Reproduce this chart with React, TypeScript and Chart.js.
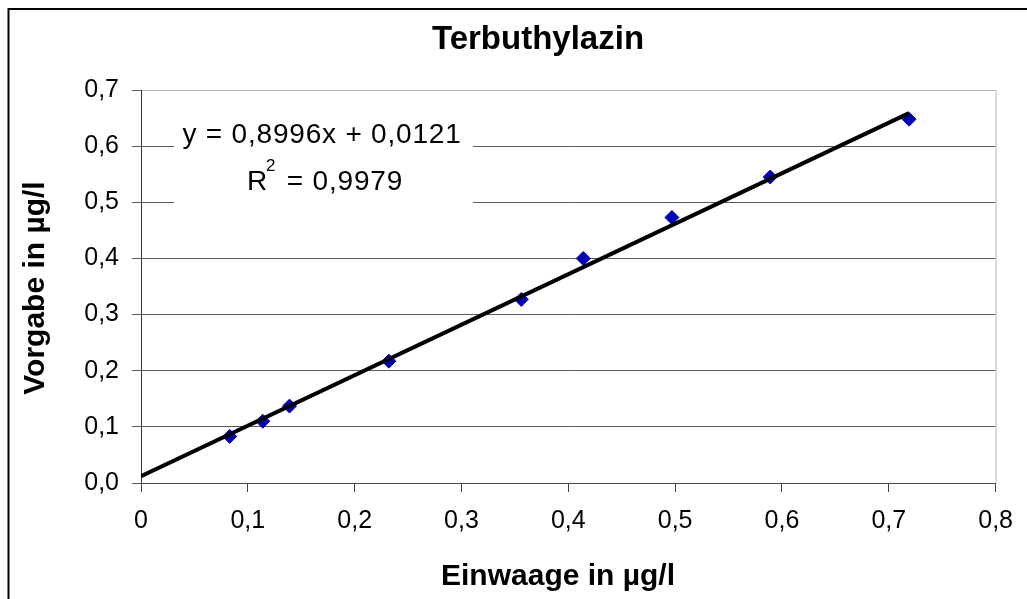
import React, { useEffect, useRef } from 'react';
import { Chart, registerables } from 'chart.js';

Chart.register(...registerables);

// ---- data ----
const xValues = [0.083, 0.114, 0.139, 0.232, 0.356, 0.414, 0.497, 0.589, 0.719];
const yValues = [0.083, 0.110, 0.137, 0.217, 0.327, 0.400, 0.473, 0.545, 0.648];
const trendSlope = 0.8996;
const trendIntercept = 0.0121;
const rSquared = 0.9979;
const xTickLabels = ['0', '0,1', '0,2', '0,3', '0,4', '0,5', '0,6', '0,7', '0,8'];
const yTickLabels = ['0,0', '0,1', '0,2', '0,3', '0,4', '0,5', '0,6', '0,7'];
const chartTitle = 'Terbuthylazin';
const xAxisTitle = 'Einwaage in µg/l';
const yAxisTitle = 'Vorgabe in µg/l';

const FONT = '"Liberation Sans", Arial, sans-serif';
const fmt = (v: number, d: number) => v.toFixed(d).replace('.', ',');

const decorPlugin = {
  id: 'decor',
  beforeDatasetsDraw(chart: any) {
    const { ctx, chartArea: a } = chart;
    ctx.save();
    // light gray top/right border of plot area
    ctx.strokeStyle = '#b8b8b8';
    ctx.lineWidth = 1;
    ctx.beginPath();
    ctx.moveTo(a.left + 1, a.top + 0.5);
    ctx.lineTo(a.right + 0.5, a.top + 0.5);
    ctx.lineTo(a.right + 0.5, a.bottom);
    ctx.stroke();
    // white background of the trendline label
    ctx.fillStyle = '#ffffff';
    ctx.fillRect(174, 108, 299, 100);
    ctx.restore();
  },
  afterDraw(chart: any) {
    const { ctx } = chart;
    ctx.save();
    ctx.fillStyle = '#000';
    // chart title
    ctx.font = `bold 33px ${FONT}`;
    ctx.textAlign = 'center';
    ctx.textBaseline = 'alphabetic';
    ctx.fillText(chartTitle, 538, 49);
    // x axis title
    ctx.font = `bold 30px ${FONT}`;
    ctx.fillText(xAxisTitle, 558, 585);
    // y axis title
    ctx.save();
    ctx.translate(44, 288);
    ctx.rotate(-Math.PI / 2);
    ctx.fillText(yAxisTitle, 0, 0);
    ctx.restore();

    // trendline equation
    (ctx as any).letterSpacing = '0.8px';
    ctx.font = `28px ${FONT}`;
    ctx.textAlign = 'center';
    ctx.fillText(`y = ${fmt(trendSlope, 4)}x + ${fmt(trendIntercept, 4)}`, 322, 143);
    ctx.textAlign = 'left';
    const p1 = 'R';
    const p3 = ` = ${fmt(rSquared, 4)}`;
    ctx.font = `28px ${FONT}`;
    const w1 = ctx.measureText(p1).width;
    const w3 = ctx.measureText(p3).width;
    ctx.font = `17px ${FONT}`;
    const w2 = ctx.measureText('2').width;
    const total = w1 + w2 + w3;
    let x = 325 - total / 2;
    ctx.font = `28px ${FONT}`;
    ctx.fillText(p1, x, 190);
    x += w1;
    ctx.font = `17px ${FONT}`;
    ctx.fillText('2', x - 2, 171);
    x += w2;
    ctx.font = `28px ${FONT}`;
    ctx.fillText(p3, x, 190);
    (ctx as any).letterSpacing = '0px';

    // outer chart frame
    ctx.strokeStyle = '#000';
    ctx.lineWidth = 2;
    ctx.beginPath();
    ctx.moveTo(8.5, 599);
    ctx.lineTo(8.5, 9);
    ctx.lineTo(1027, 9);
    ctx.stroke();
    ctx.restore();
  },
};

export default function App() {
  const canvasRef = useRef<HTMLCanvasElement | null>(null);

  useEffect(() => {
    if (!canvasRef.current) return;
    const points = xValues.map((x, i) => ({ x, y: yValues[i] }));
    const xMax = Math.max(...xValues);
    const trend = [0, xMax].map((x) => ({ x, y: trendSlope * x + trendIntercept }));

    const chart = new Chart(canvasRef.current, {
      type: 'scatter',
      data: {
        datasets: [
          {
            type: 'line',
            data: trend,
            borderColor: '#000',
            borderWidth: 4,
            borderCapStyle: 'butt',
            pointRadius: 0,
            fill: false,
            order: 0,
          } as any,
          {
            data: points,
            pointStyle: 'rectRot',
            pointRadius: 7,
            pointBorderWidth: 1,
            pointBackgroundColor: '#0000b8',
            pointBorderColor: '#0000b8',
            order: 1,
          },
        ],
      },
      options: {
        responsive: false,
        maintainAspectRatio: false,
        animation: false,
        devicePixelRatio: 1,
        layout: { padding: { left: 0, top: 90, right: 31, bottom: 0 } },
        plugins: { legend: { display: false }, tooltip: { enabled: false }, title: { display: false } },
        scales: {
          x: {
            type: 'linear',
            min: 0,
            max: 0.8,
            afterFit: (s: any) => { s.height = 116; },
            ticks: {
              stepSize: 0.1,
              padding: 14,
              color: '#000',
              font: { family: FONT, size: 25 },
              maxRotation: 0,
              autoSkip: false,
              callback: (v: any) => xTickLabels[Math.round(Number(v) * 10)] ?? '',
            },
            grid: { drawOnChartArea: false, drawTicks: true, tickLength: 9, color: '#444', lineWidth: 1 },
            border: { display: true, color: '#444', width: 1 },
          },
          y: {
            type: 'linear',
            min: 0,
            max: 0.7,
            afterFit: (s: any) => { s.width = 141; },
            ticks: {
              stepSize: 0.1,
              padding: 13,
              color: '#000',
              font: { family: FONT, size: 25 },
              autoSkip: false,
              callback: (v: any) => yTickLabels[Math.round(Number(v) * 10)] ?? '',
            },
            grid: { drawOnChartArea: true, drawTicks: true, tickLength: 9, color: '#5a5a5a', lineWidth: 1 },
            border: { display: true, color: '#333', width: 1 },
          },
        },
      },
      plugins: [decorPlugin],
    });
    return () => chart.destroy();
  }, []);

  return (
    <div style={{ position: 'fixed', left: 0, top: 0, width: 1027, height: 599, overflow: 'hidden', background: '#fff' }}>
      <canvas ref={canvasRef} width={1027} height={599} style={{ display: 'block', width: 1027, height: 599 }} />
    </div>
  );
}
